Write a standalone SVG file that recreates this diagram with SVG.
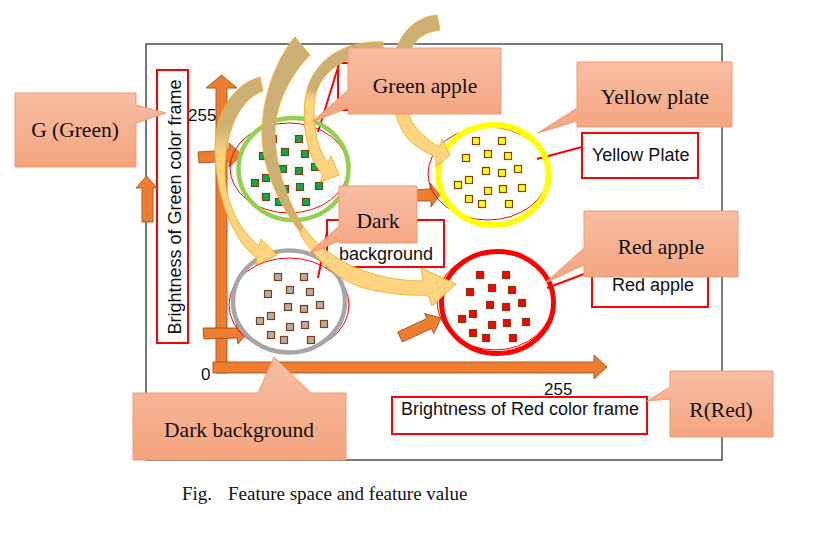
<svg xmlns="http://www.w3.org/2000/svg" width="838" height="552" viewBox="0 0 838 552">
<defs>
<linearGradient id="cg" x1="0" y1="0" x2="0" y2="1"><stop offset="0" stop-color="#F8BEA4"/><stop offset="1" stop-color="#F4A47E"/></linearGradient>
<linearGradient id="gB" gradientUnits="userSpaceOnUse" x1="0" y1="77" x2="0" y2="265"><stop offset="0.25" stop-color="#CCAF75"/><stop offset="0.42" stop-color="#FFD480"/></linearGradient>
<linearGradient id="gC" gradientUnits="userSpaceOnUse" x1="0" y1="42" x2="0" y2="182"><stop offset="0.33" stop-color="#CCAF75"/><stop offset="0.42" stop-color="#FFD480"/></linearGradient>
<linearGradient id="gD" gradientUnits="userSpaceOnUse" x1="0" y1="15" x2="0" y2="167"><stop offset="0.25" stop-color="#CCAF75"/><stop offset="0.6" stop-color="#FFD480"/></linearGradient>
<g id="dots" class="sq">
<rect x="-3.5" y="-3.5" width="7" height="7"/><rect x="22.5" y="-3.5" width="7" height="7"/>
<rect x="-13.5" y="13.5" width="7" height="7"/><rect x="8.5" y="9.5" width="7" height="7"/>
<rect x="28.5" y="11.5" width="7" height="7"/><rect x="6.5" y="26.5" width="7" height="7"/>
<rect x="22.5" y="28.5" width="7" height="7"/><rect x="38.5" y="24.5" width="7" height="7"/>
<rect x="-21.5" y="40.5" width="7" height="7"/><rect x="-10.5" y="35.5" width="7" height="7"/>
<rect x="8.5" y="46.5" width="7" height="7"/><rect x="23.5" y="44.5" width="7" height="7"/>
<rect x="42.5" y="43.5" width="7" height="7"/><rect x="-10.5" y="54.5" width="7" height="7"/>
<rect x="2.5" y="59.5" width="7" height="7"/><rect x="29.5" y="59.5" width="7" height="7"/>
</g>
</defs>
<style>
.call{fill:url(#cg);stroke:#F19B6B;stroke-width:1}
.ct{font-family:"Liberation Serif",serif;font-size:21.5px;fill:#111;text-anchor:middle}
.lb{font-family:"Liberation Sans",sans-serif;font-size:18px;fill:#111}
.num{font-family:"Liberation Sans",sans-serif;font-size:17px;fill:#111}
.cap{font-family:"Liberation Serif",serif;font-size:19px;fill:#111}
.rb{fill:#fff;stroke:#FF0000;stroke-width:2}
.rl{stroke:#FF0000;stroke-width:2;fill:none}
.oa{fill:#ED7D31;stroke:#B05A20;stroke-width:1}
.ca{stroke:#F5B233;stroke-width:1}
.sq{stroke:#843C0C;stroke-width:1.2}
.thin{fill:none;stroke:#FF0000;stroke-width:1}
</style>
<rect width="838" height="552" fill="#fff"/>
<rect id="frame" x="146" y="44" width="576" height="416" fill="none" stroke="#333" stroke-width="1.3"/>

<g id="labels">
<g id="lbl-green-axis"><rect class="rb" x="157" y="70" width="31" height="273"/>
<text class="lb" transform="rotate(-90 181 207)" x="181" y="207" text-anchor="middle">Brightness of Green color frame</text></g>
<g id="lbl-red-axis"><rect class="rb" x="392" y="397" width="255" height="37"/>
<text class="lb" x="401" y="415">Brightness of Red color frame</text></g>
<g id="lbl-yellow"><rect class="rb" x="582" y="133" width="116" height="45"/>
<text class="lb" x="592" y="161">Yellow Plate</text></g>
<g id="lbl-red"><rect class="rb" x="592" y="265" width="116" height="42"/>
<text class="lb" x="612" y="291">Red apple</text></g>
<g id="lbl-dark"><rect class="rb" x="327" y="220" width="117" height="47"/>
<text class="lb" x="339" y="260">background</text></g>
<g id="lbl-green"><rect class="rb" x="338" y="63" width="140" height="47"/></g>
</g>

<g id="connectors">
<line class="rl" x1="318" y1="132" x2="339" y2="64"/>
<line class="rl" x1="537" y1="159" x2="582" y2="147"/>
<line class="rl" x1="318" y1="278" x2="327" y2="232"/>
<line class="rl" x1="547" y1="288" x2="592" y2="271"/>
<path class="oa" d="M216,373 V88 H206 L221.5,75 L237,88 H227 V373 Z"/>
<path class="oa" d="M213,362 H594 V355 L607,367 L594,379 V373 H213 Z"/>
<path class="oa" d="M142,222 V188 H136 L146.5,176 L157,188 H153 V222 Z"/>
<path class="oa" d="M198,152 L229,150 L229,143 L242,155 L229,167 L229,161 L199,163 Z"/>
<path class="oa" d="M414,190 L430,189 L430,183 L440,195 L431,207 L431,201 L414,201 Z"/>
<path class="oa" d="M203,328 L237,328 L236,322 L247,333 L238,344 L237,338 L204,339 Z"/>
<path class="oa" d="M397.7,332 L426.9,318.5 L424.6,313.5 L441,318 L433.8,333.5 L431.5,328.5 L402.3,342 Z"/>
</g>

<g id="cluster-green">
<ellipse class="thin" cx="289" cy="168" rx="59" ry="45"/>
<ellipse cx="293.5" cy="169" rx="55" ry="51" fill="none" stroke="#92D050" stroke-width="4.5"/>
<use href="#dots" x="273" y="139" fill="#00B050"/>
</g>
<g id="cluster-yellow">
<ellipse class="thin" cx="488" cy="173.5" rx="60" ry="46.5"/>
<ellipse cx="493.5" cy="175" rx="55" ry="50" fill="none" stroke="#FFFF00" stroke-width="6"/>
<use href="#dots" x="476" y="141" fill="#FFFF00"/>
</g>
<g id="cluster-gray">
<ellipse class="thin" cx="289" cy="305" rx="60" ry="47"/>
<ellipse cx="289" cy="301.5" rx="56" ry="51" fill="none" stroke="#A6A6A6" stroke-width="4.5"/>
<use href="#dots" x="278" y="277" fill="#B0B0B0"/>
</g>
<g id="cluster-red">
<ellipse class="thin" cx="495" cy="301" rx="58" ry="49"/>
<ellipse cx="497.5" cy="302.5" rx="56" ry="51" fill="none" stroke="#FF0000" stroke-width="5"/>
<use href="#dots" x="480" y="275" fill="#FF0000"/>
</g>

<g id="curved-arrows">
<path class="ca" fill="#CCAF75" d="M295,37 C275,60 262,100 262,133 C262,170 280,205 300,232 L303,226 C290,205 275,170 275,133 C275,105 290,75 310,55 Z"/>
<path class="ca" fill="#FFD480" d="M303,226 C318,248 345,268 385,277 C400,280 412,281 423,281 L421,268 L456,284 L432,306 L428,295 C410,296 385,294 360,287 C335,278 315,258 300,234 Z"/>
<path class="ca" fill="url(#gB)" d="M260,77 C232,85 214,115 215,150 C216,195 232,240 257,258 L256,265 L277,255 L261,239 L259,246 C240,230 226,205 225,175 C224,135 238,100 263,91 Z"/>
<path class="ca" fill="url(#gC)" d="M383,42 C345,40 310,60 305,100 C302,130 308,158 323,175 L320,182 L339,175 L331,156 L328,163 C318,150 313,130 314,105 C316,75 340,55 383,52 Z"/>
<path class="ca" fill="url(#gD)" d="M437,15 C410,18 393,40 392,75 C391,100 395,120 405,135 C413,146 425,152 436,157 L436,167 L450,155 L442,139 L440,147 C428,141 418,132 411,120 C404,105 404,80 407,60 C411,42 422,32 440,30 Z"/>
</g>

<g id="callout-g"><path class="call" d="M15,93 H136 V105 L166,113 L136,123 V167 H15 Z"/><text class="ct" x="75" y="137">G (Green)</text></g>
<g id="callout-green-apple"><path class="call" d="M348,48 H501 V114 H348 V108 L312,122 L348,90 Z"/><text class="ct" x="425" y="93">Green apple</text></g>
<g id="callout-yellow-plate"><path class="call" d="M577,62 H732 V127 H577 V121 L538,133 L577,108 Z"/><text class="ct" x="655" y="104">Yellow plate</text></g>
<g id="callout-dark"><path class="call" d="M339,186 H417 V243 H339 V241 L308,254 L339,226 Z"/><text class="ct" x="378" y="228">Dark</text></g>
<g id="callout-red-apple"><path class="call" d="M584,211 H738 V277 H584 V265 L545,283 L584,248 Z"/><text class="ct" x="661" y="254">Red apple</text></g>
<g id="callout-dark-bg"><path class="call" d="M133,393 H258 L274,357 L311,393 H346 V460 H133 Z"/><text class="ct" x="239" y="437">Dark background</text></g>
<g id="callout-r"><path class="call" d="M670,371 H773 V437 H670 V399 L647,401 L670,387 Z"/><text class="ct" x="721" y="417">R(Red)</text></g>

<g id="ticks">
<text class="num" x="188" y="121">255</text>
<text class="num" x="201" y="380">0</text>
<text class="num" x="544" y="395">255</text>
</g>
<g id="caption">
<text class="cap" x="182" y="500">Fig.</text>
<text class="cap" x="228" y="500">Feature space and feature value</text>
</g>
</svg>
